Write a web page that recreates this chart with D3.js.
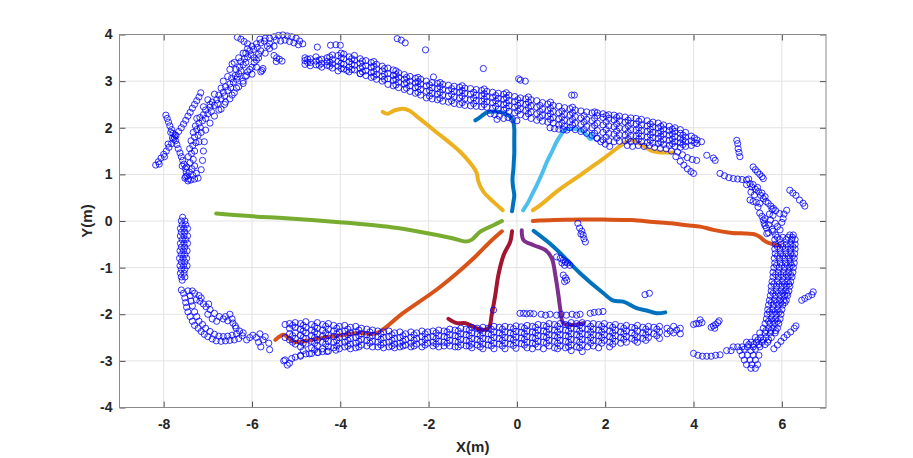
<!DOCTYPE html>
<html><head><meta charset="utf-8">
<script src="https://cdn.jsdelivr.net/npm/d3@7"></script>
<style>
body{margin:0;background:#fff}
text{font-family:"Liberation Sans",Arial,Helvetica,sans-serif;font-weight:bold;fill:#262626}
</style>
</head><body>
<svg id="chart" width="913" height="458"></svg>
<script>
// ---------- axis data ----------
const xDomain = [-9, 7];
const yDomain = [-4, 4];
const xTicks = [-8, -6, -4, -2, 0, 2, 4, 6];
const yTicks = [-4, -3, -2, -1, 0, 1, 2, 3, 4];
const xLabel = "X(m)";
const yLabel = "Y(m)";

// ---------- trajectories [x, y] ----------
const trajBlueUp = [[-0.11,0.21],[-0.08,0.4],[-0.06,0.55],[-0.09,0.75],[-0.1,0.91],[-0.08,1.1],[-0.07,1.27],[-0.06,1.45],[-0.06,1.63],[-0.06,1.8],[-0.06,1.98],[-0.08,2.12],[-0.13,2.22],[-0.26,2.3],[-0.4,2.34],[-0.53,2.35],[-0.68,2.33],[-0.83,2.23],[-0.94,2.16]];
const trajOrangeRight = [[0.36,0.0],[0.83,0.02],[1.5,0.03],[1.96,0.03],[2.6,0.02],[3.09,-0.02],[3.5,-0.05],[3.85,-0.09],[4.15,-0.12],[4.45,-0.19],[4.83,-0.25],[5.2,-0.27],[5.35,-0.28],[5.47,-0.32],[5.6,-0.42],[5.73,-0.48],[5.96,-0.53]];
const trajYellowUL = [[-0.32,0.23],[-0.53,0.41],[-0.76,0.63],[-0.87,0.84],[-0.92,1.05],[-1.08,1.27],[-1.28,1.48],[-1.46,1.63],[-1.83,1.91],[-2.21,2.2],[-2.44,2.37],[-2.59,2.41],[-2.78,2.37],[-2.93,2.3],[-3.04,2.34]];
const trajPurple = [[0.11,-0.2],[0.15,-0.41],[0.38,-0.52],[0.64,-0.62],[0.79,-0.8],[0.87,-1.16],[0.94,-1.59],[0.99,-1.94],[1.05,-2.19],[1.24,-2.23],[1.51,-2.19]];
const trajGreen = [[-0.34,0.0],[-0.53,-0.09],[-0.83,-0.23],[-1.02,-0.4],[-1.15,-0.44],[-1.46,-0.37],[-2.21,-0.23],[-2.96,-0.12],[-4.09,-0.02],[-5.23,0.06],[-5.98,0.1],[-6.81,0.16]];
const trajLightBlue = [[0.14,0.23],[0.26,0.41],[0.36,0.6],[0.45,0.77],[0.57,1.02],[0.68,1.27],[0.8,1.5],[0.9,1.7],[1.0,1.85],[1.09,1.95],[1.24,1.98],[1.43,1.95],[1.58,1.85],[1.66,1.76],[1.71,1.78],[1.7,1.86]];
const trajDarkRed = [[-0.11,-0.22],[-0.15,-0.44],[-0.3,-0.73],[-0.42,-1.16],[-0.49,-1.59],[-0.57,-2.01],[-0.64,-2.3],[-0.79,-2.34],[-0.98,-2.27],[-1.17,-2.19],[-1.36,-2.19],[-1.55,-2.1]];
const trajBlueLR = [[0.38,-0.21],[0.83,-0.55],[1.43,-1.12],[1.96,-1.55],[2.19,-1.71],[2.41,-1.73],[2.71,-1.87],[2.94,-1.92],[3.17,-1.98],[3.36,-1.96]];
const trajOrangeLL = [[-0.34,-0.22],[-0.6,-0.44],[-0.98,-0.8],[-1.36,-1.12],[-1.83,-1.48],[-2.59,-1.98],[-3.19,-2.41],[-3.57,-2.4],[-4.47,-2.52],[-5.05,-2.59],[-5.28,-2.44],[-5.47,-2.55]];
const trajYellowUR = [[0.36,0.23],[0.53,0.34],[0.9,0.63],[1.21,0.84],[1.43,0.98],[1.96,1.34],[2.49,1.7],[2.64,1.73],[2.85,1.62],[3.02,1.52],[3.17,1.48],[3.54,1.47]];
const trajColors = ["#0072BD","#D95319","#EDB120","#7E2F8E","#77AC30","#4DBEEE","#A2142F","#0072BD","#D95319","#EDB120"];

// ---------- scan points ----------
// explicit [x, y] pairs
const scanXShape = [[-8.18,1.2],[-8.12,1.27],[-8.06,1.35],[-8.0,1.43],[-7.94,1.5],[-7.88,1.58],[-7.82,1.66],[-7.77,1.75],[-7.72,1.83],[-7.66,1.92],[-7.6,2.0],[-7.55,2.08],[-7.5,2.16],[-7.45,2.25],[-7.4,2.33],[-7.35,2.42],[-7.3,2.5],[-7.25,2.58],[-7.2,2.66],[-7.16,2.75],
 [-7.95,2.27],[-7.92,2.2],[-7.89,2.12],[-7.86,2.04],[-7.82,1.96],[-7.79,1.88],[-7.76,1.8],[-7.73,1.72],[-7.7,1.64],[-7.67,1.55],[-7.63,1.46],[-7.6,1.38],[-7.57,1.3],[-7.54,1.22],[-7.51,1.13],[-7.49,1.05],[-7.47,0.97],[-7.44,0.9],[-7.84,1.9],[-7.8,1.78],[-7.74,1.85],[-7.9,1.65],[-8.1,1.22],[-7.98,1.38],[-7.52,0.92],[-7.58,1.18]];
const scanLeftArc = [[-7.45,0.86],[-7.38,0.88],[-7.3,0.9],[-7.22,0.92],[-7.5,0.95],[-7.34,0.98],[-7.26,1.02],[-7.42,1.05],[-7.36,1.12],[-7.48,1.16],[-7.3,1.18],[-7.4,1.25],[-7.33,1.32],[-7.44,1.38],[-7.37,1.45],[-7.3,1.5],[-7.41,1.55],[-7.34,1.62],[-7.27,1.68],[-7.38,1.72],[-7.3,1.8],[-7.22,1.84],[-7.33,1.9],[-7.25,1.96],[-7.17,2.0],[-7.28,2.04],
 [-7.2,2.1],[-7.12,2.15],[-7.05,2.2],[-7.18,2.22],[-7.1,2.28],[-7.0,2.3],[-6.92,2.35],[-7.05,2.38],[-6.95,2.44],[-6.85,2.48],[-6.78,2.52],[-6.9,2.55],[-6.8,2.6],[-6.7,2.62],[-6.62,2.68],[-6.75,2.7],[-6.65,2.76],[-6.55,2.8],[-6.48,2.86],[-6.6,2.88],[-6.5,2.94],[-6.42,2.98],[-6.35,3.04],[-6.46,3.06],[-6.38,3.12],[-6.3,3.16],[-6.25,3.22],[-6.36,3.25],[-6.28,3.3],[-6.2,3.35],[-6.14,3.4],[-6.25,3.42],[-6.17,3.48],[-6.1,3.52],[-6.02,3.56],[-6.14,3.6],[-6.05,3.65],[-5.96,3.68],[-5.88,3.72],[-6.0,3.75],[-5.9,3.8],[-5.8,3.82],[-5.72,3.86],[-5.82,3.9],[-5.7,3.92],[-5.6,3.92],[-5.5,3.95],[-5.4,3.98],[-5.3,3.99],[-5.2,3.97],[-5.1,3.95],[-5.0,3.92],[-4.92,3.86],[-4.85,3.8],[-5.45,3.88],[-5.35,3.86],[-5.25,3.88],[-5.15,3.85],[-5.05,3.82],[-4.95,3.78],
 [-6.33,3.94],[-6.25,3.9],[-6.18,3.85],[-6.1,3.8],[-6.45,3.37],[-6.33,3.09],[-6.0,3.3],[-5.9,3.45],[-5.77,3.23],[-6.1,3.2],[-5.85,3.58],[-5.9,3.3],[-5.8,3.2],[-5.75,3.27],[-7.1,2.45],[-7.0,2.6],[-6.85,2.72],[-6.7,2.85],[-7.25,2.2],[-7.15,1.9],[-7.2,1.7],
 [-7.15,1.1],[-7.12,1.3],[-7.1,1.5],[-7.08,1.7],[-7.05,1.95],[-6.95,2.1],[-6.85,2.25],[-6.75,2.38],[-6.62,2.5],[-6.5,2.62],[-6.4,2.75],[-6.3,2.88],[-6.2,3.0],[-6.12,3.12],[-6.05,3.25],[-5.95,3.4],[-5.85,3.5],[-5.7,3.6],[-5.6,3.7],[-5.5,3.75],[-5.6,3.8],
 [-6.95,2.5],[-6.7,2.4],[-6.6,2.55],[-6.45,2.7],[-6.35,2.85],[-6.2,2.95],[-6.15,3.1],[-6.0,3.15],[-5.95,3.5],[-5.8,3.65],[-5.65,3.75],[-6.1,3.7],[-6.2,3.6],[-6.3,3.5],[-6.4,3.4],[-6.5,3.25],[-6.55,3.1],[-6.65,3.0],
 [-5.5,3.55],[-5.44,3.5],[-5.38,3.47],[-5.32,3.43],[-5.45,3.42]];
const scanIsolated = [[-4.22,3.77],[-4.0,3.77],[-4.1,3.78],[-2.71,3.91],[-2.62,3.88],[-2.53,3.82],[-2.07,3.67],[-4.52,3.73],[-3.55,3.16],[-3.85,3.23],[-0.76,3.27],[0.04,3.05],[0.08,3.02],[0.19,3.0],[1.24,2.7],[1.3,2.7],[-1.89,3.09],
 [-0.6,2.3],[-0.5,2.28],[-0.4,2.25],[-0.3,2.2],[-0.2,2.22],[-0.1,2.18],[0.0,2.15],[-0.45,2.18],[0.75,2.0],[0.85,1.98],[0.95,1.97],[1.05,1.96],[1.13,1.95],[1.81,1.77],[1.9,1.7],[2.0,1.65],[2.1,1.6],
 [2.5,1.62],[2.62,1.6],[2.75,1.62],[2.88,1.6],[3.0,1.62],[3.12,1.58],[3.25,1.56],[3.38,1.55],[3.5,1.5],[3.64,1.48],[3.75,1.42],[3.86,1.36],[3.97,1.32],[4.07,1.3],[3.6,1.38],[3.7,1.28],[3.78,1.2],[3.86,1.12],[3.94,1.06],[4.0,1.02],
 [4.3,1.41],[4.45,1.35],[4.49,1.3],[4.98,1.73],[5.0,1.66],[5.01,1.55],[5.03,1.47],[5.05,1.38],[4.6,1.02],[4.7,0.97],[4.8,0.93],[4.9,0.91],[5.0,0.9],[5.1,0.89],[5.2,0.88],[5.28,0.8],[5.32,0.73],[5.4,0.68],[5.47,0.63],[5.52,0.55],[5.58,0.48],[5.64,0.42],[5.69,0.38],[5.75,0.32],[5.81,0.27],
 [5.25,0.9],[5.35,0.78],[5.45,0.72],[5.55,0.6],[5.62,0.52],[5.2,0.78],[5.3,0.62],[5.38,0.56],[5.28,0.45],[5.35,0.42],[5.42,0.4],[5.5,0.38],[5.46,0.3],[5.5,0.17],[5.55,0.1],[5.58,0.02],[5.62,-0.1],[5.66,-0.27],
 [5.35,1.16],[5.4,1.1],[5.45,1.05],[5.5,1.0],[5.55,0.95],[5.58,0.91],[6.18,0.66],[6.25,0.6],[6.32,0.55],[6.4,0.45],[6.48,0.38],[6.52,0.32],[6.11,0.23],[6.05,0.15],[6.03,0.05],[6.0,-0.03],[5.96,-0.19],
 [5.78,0.25],[5.86,0.22],[5.72,0.15],[5.8,0.12],[5.95,0.16],[5.62,0.05],[5.74,0.02],[5.6,-0.05],[5.7,-0.08],[5.85,-0.05],[5.65,-0.15],[5.78,-0.18],[5.9,-0.12],[5.7,-0.25],[5.8,-0.22],
 [1.38,-0.05],[1.42,-0.15],[1.47,-0.22],[1.5,-0.3],[1.52,-0.38],[1.55,-0.45],[1.45,-0.28],[0.9,-0.77],[0.98,-0.8],[1.05,-0.84],[1.1,-0.88],[1.15,-0.9],[1.2,-0.95],[1.02,-0.9],[1.08,-0.95],[1.05,-1.16],[1.1,-1.22],[1.13,-1.27],[1.08,-1.3],[2.9,-1.58],[3.0,-1.55],[-0.53,-1.91],
 [6.45,-1.7],[6.52,-1.66],[6.6,-1.62],[6.68,-1.58],[6.71,-1.52],[4.0,-2.22],[4.06,-2.2],[4.12,-2.2],[4.19,-2.18],[4.15,-2.12],[4.4,-2.28],[4.45,-2.25],[4.5,-2.22],[4.55,-2.18],[4.58,-2.14],[4.48,-2.3],
 [4.0,-2.84],[4.1,-2.88],[4.2,-2.9],[4.3,-2.9],[4.4,-2.9],[4.5,-2.88],[4.6,-2.87],[5.82,-2.74],[5.9,-2.66],[5.98,-2.58],[6.05,-2.5],[6.12,-2.44],[6.2,-2.38],[6.28,-2.3],[6.32,-2.25],
 [0.07,-1.98],[0.15,-1.98],[0.22,-1.99],[0.3,-1.98],[0.38,-1.99],[0.55,-2.0],[0.65,-2.02],[0.75,-2.0],[0.9,-2.02],[1.0,-2.0],[1.12,-2.02],[1.25,-2.0],[1.35,-2.02],[1.43,-2.0],[1.66,-1.98],[1.75,-1.96],[1.85,-1.95],[1.95,-1.94]];
const scanLeftCorner = [[-7.6,-1.48],[-7.55,-1.55],[-7.52,-1.65],[-7.5,-1.75],[-7.48,-1.85],[-7.45,-1.95],[-7.4,-2.05],[-7.35,-2.15],[-7.3,-2.24],[-7.22,-2.3],[-7.15,-2.37],[-7.08,-2.43],[-7.0,-2.48],[-6.9,-2.53],[-6.81,-2.57],[-6.7,-2.58],[-6.6,-2.57],[-6.5,-2.56],[-6.4,-2.55],[-6.3,-2.52],[-6.22,-2.46],[-6.2,-2.4],
 [-7.45,-1.5],[-7.4,-1.6],[-7.38,-1.72],[-7.35,-1.82],[-7.3,-1.95],[-7.25,-2.05],[-7.2,-2.15],[-7.12,-2.22],[-7.05,-2.3],[-6.95,-2.37],[-6.85,-2.43],[-6.75,-2.47],[-6.65,-2.48],[-6.55,-2.47],[-6.45,-2.45],[-6.35,-2.42],[-6.28,-2.36],
 [-7.26,-1.69],[-7.18,-1.72],[-7.1,-1.78],[-7.04,-1.84],[-6.95,-1.9],[-6.85,-1.98],[-6.74,-2.05],[-6.65,-2.1],[-6.55,-2.14],[-6.43,-2.19],[-6.38,-2.25],[-6.36,-2.3],[-6.6,-2.05],[-6.5,-2.0],[-6.45,-2.1],[-6.9,-2.1],[-6.8,-2.15],[-7.0,-2.0],[-7.3,-1.55],[-7.35,-1.5],[-7.2,-1.6],[-7.15,-1.65],[-6.98,-1.78],
 [-5.98,-2.45],[-5.9,-2.5],[-5.82,-2.42],[-5.75,-2.55],[-5.85,-2.6],[-5.7,-2.48],[-5.62,-2.62],[-5.8,-2.7],[-5.6,-2.76],[-6.05,-2.5],[-6.12,-2.55],
 [-5.28,-3.0],[-5.2,-3.09],[-5.1,-2.95],[-4.9,-2.9],[-4.7,-2.85],[-4.5,-2.82],[-4.3,-2.8],[-4.1,-2.77]];

// columns: [x, y1, y2, ...]
const scanTopBand = [
 [-4.8,3.36,3.44,3.5],[-4.68,3.33,3.4,3.48],[-4.55,3.35,3.43,3.52],[-4.42,3.3,3.38,3.47],[-4.3,3.34,3.42,3.5],[-4.18,3.28,3.37,3.46,3.56],[-4.05,3.22,3.32,3.42,3.55],[-3.92,3.26,3.36,3.48,3.58],[-3.8,3.2,3.3,3.42,3.52],[-3.68,3.24,3.34,3.45,3.55],[-3.55,3.16,3.28,3.38,3.48],[-3.42,3.12,3.22,3.33,3.44],[-3.3,3.08,3.18,3.3,3.4],[-3.18,3.04,3.14,3.26,3.36],[-3.05,3.0,3.1,3.22,3.32],[-2.92,2.93,3.05,3.16,3.28],[-2.8,2.9,3.02,3.12,3.24],[-2.68,2.86,2.98,3.08,3.18],[-2.55,2.82,2.94,3.04,3.14],[-2.42,2.78,2.9,3.0,3.1],[-2.3,2.74,2.86,2.96,3.06],[-2.18,2.7,2.82,2.94,3.04],[-2.05,2.64,2.78,2.9,3.0],[-1.92,2.62,2.74,2.86,2.97],[-1.8,2.6,2.72,2.84,2.95],[-1.68,2.57,2.7,2.82,2.93],[-1.55,2.55,2.68,2.8,2.91],[-1.42,2.52,2.66,2.78,2.89],[-1.3,2.5,2.64,2.76,2.87],[-1.18,2.48,2.62,2.74,2.85],[-1.05,2.47,2.6,2.72,2.84],[-0.92,2.46,2.58,2.7,2.82],[-0.8,2.45,2.57,2.69,2.8],[-0.68,2.44,2.56,2.67,2.78],[-0.55,2.42,2.54,2.65,2.76],[-0.42,2.4,2.52,2.63,2.74],[-0.3,2.38,2.5,2.61,2.72],[-0.18,2.35,2.47,2.58,2.7],[-0.05,2.32,2.44,2.56,2.67],[0.08,2.28,2.41,2.53,2.64],[0.2,2.24,2.37,2.5,2.62],[0.32,2.2,2.34,2.47,2.6],[0.45,2.16,2.3,2.44,2.58],[0.58,2.14,2.27,2.4,2.54],[0.7,2.12,2.25,2.37,2.51],[0.82,2.1,2.22,2.35,2.48],[0.95,2.06,2.19,2.32,2.46],[1.08,2.03,2.16,2.29,2.43],[1.2,2.0,2.13,2.27,2.41],[1.32,1.96,2.1,2.24,2.38],[1.45,1.92,2.07,2.21,2.36],[1.58,1.88,2.03,2.18,2.34],[1.7,1.84,2.0,2.15,2.32],[1.82,1.78,1.94,2.1,2.26,2.32],[1.95,1.74,1.9,2.06,2.22,2.3],[2.08,1.72,1.88,2.04,2.2,2.28],[2.2,1.7,1.86,2.02,2.17,2.27],[2.32,1.71,1.85,2.0,2.15,2.25],[2.45,1.72,1.84,1.98,2.12,2.23],[2.58,1.7,1.83,1.96,2.1,2.21],[2.7,1.71,1.82,1.95,2.08,2.2],[2.82,1.7,1.82,1.94,2.06,2.18],[2.95,1.68,1.8,1.92,2.04,2.15],[3.08,1.67,1.79,1.9,2.02,2.12],[3.2,1.66,1.77,1.88,2.0,2.1],[3.32,1.64,1.75,1.86,1.97,2.06],[3.45,1.62,1.73,1.84,1.94,2.03],[3.58,1.6,1.7,1.81,1.92,2.0],[3.7,1.58,1.68,1.78,1.88,1.96],[3.82,1.6,1.7,1.8,1.9],[3.95,1.62,1.72,1.82],[4.08,1.66,1.74],[4.18,1.7],
 [-4.74,3.4,3.47],[-4.48,3.34,3.45],[-4.24,3.32,3.41,3.52],[-3.98,3.27,3.38,3.5,3.6],[-3.74,3.25,3.37,3.48],[-3.5,3.2,3.31,3.43],[-3.24,3.1,3.2,3.32,3.42],[-3.0,3.04,3.15,3.27],[-2.74,2.92,3.04,3.14,3.22],[-2.5,2.85,2.97,3.08],[-2.24,2.76,2.88,2.99,3.08],[-1.98,2.68,2.8,2.92],[-1.74,2.63,2.76,2.88,2.97],[-1.48,2.58,2.72,2.84],[-1.24,2.54,2.68,2.8,2.9],[-0.98,2.52,2.64,2.76],[-0.74,2.5,2.62,2.73,2.83],[-0.48,2.46,2.58,2.69],[-0.24,2.42,2.53,2.65,2.75],[0.02,2.36,2.48,2.6],[0.26,2.3,2.43,2.55,2.66],[0.52,2.22,2.35,2.48],[0.76,2.18,2.3,2.42,2.55],[1.02,2.1,2.23,2.36],[1.26,2.06,2.18,2.32,2.44],[1.52,1.96,2.12,2.26],[1.76,1.88,2.05,2.2,2.34],[2.02,1.8,1.96,2.12,2.26],[2.26,1.78,1.93,2.08,2.22],[2.52,1.76,1.9,2.04,2.16],[2.76,1.76,1.88,2.0,2.14],[3.02,1.73,1.85,1.97,2.08],[3.26,1.7,1.82,1.92,2.03],[3.52,1.66,1.76,1.87,1.97],[3.76,1.64,1.74,1.84],[4.02,1.68,1.78]];
const scanBottomBand = [
 [-5.25,-2.22,-2.5,-2.98],[-5.15,-2.2,-2.3,-2.42,-2.55,-3.05],[-5.02,-2.18,-2.28,-2.4,-2.52,-2.64,-2.92],[-4.9,-2.2,-2.32,-2.45,-2.58,-2.7,-2.88],[-4.78,-2.16,-2.28,-2.4,-2.52,-2.64,-2.85],[-4.65,-2.22,-2.34,-2.46,-2.58,-2.72,-2.84],[-4.52,-2.18,-2.3,-2.42,-2.55,-2.68,-2.82],[-4.4,-2.22,-2.34,-2.47,-2.6,-2.74,-2.8],[-4.27,-2.2,-2.32,-2.45,-2.58,-2.7,-2.79],[-4.15,-2.24,-2.36,-2.48,-2.6,-2.72],[-4.02,-2.26,-2.38,-2.5,-2.62,-2.74],[-3.9,-2.24,-2.36,-2.48,-2.6,-2.7],[-3.77,-2.28,-2.4,-2.52,-2.64,-2.74],[-3.65,-2.26,-2.38,-2.5,-2.62,-2.72],[-3.52,-2.3,-2.42,-2.54,-2.66],[-3.4,-2.32,-2.44,-2.56,-2.68],[-3.27,-2.34,-2.46,-2.58,-2.7],[-3.15,-2.36,-2.48,-2.6,-2.7],[-3.02,-2.38,-2.5,-2.62,-2.72],[-2.9,-2.36,-2.48,-2.6,-2.7],[-2.77,-2.4,-2.52,-2.64,-2.72],[-2.65,-2.38,-2.5,-2.62,-2.7],[-2.52,-2.42,-2.54,-2.66],[-2.4,-2.38,-2.5,-2.62,-2.7],[-2.27,-2.4,-2.52,-2.64],[-2.15,-2.36,-2.48,-2.6,-2.7],[-2.02,-2.38,-2.5,-2.62],[-1.9,-2.36,-2.48,-2.6,-2.68],[-1.77,-2.34,-2.46,-2.58,-2.7],[-1.65,-2.36,-2.48,-2.6,-2.68],[-1.52,-2.32,-2.44,-2.56,-2.68],[-1.4,-2.34,-2.46,-2.58,-2.7],[-1.27,-2.3,-2.42,-2.54,-2.66],[-1.15,-2.32,-2.44,-2.56,-2.68],[-1.02,-2.28,-2.4,-2.52,-2.64,-2.72],[-0.9,-2.3,-2.42,-2.54,-2.66],[-0.77,-2.28,-2.4,-2.52,-2.64,-2.74],[-0.65,-2.3,-2.42,-2.54,-2.66],[-0.52,-2.26,-2.38,-2.5,-2.62,-2.74],[-0.4,-2.28,-2.4,-2.52,-2.64],[-0.27,-2.26,-2.38,-2.5,-2.62,-2.74],[-0.15,-2.28,-2.4,-2.52,-2.64],[-0.02,-2.25,-2.37,-2.49,-2.61,-2.73],[0.1,-2.27,-2.39,-2.51,-2.63],[0.23,-2.24,-2.36,-2.48,-2.6,-2.72],[0.35,-2.26,-2.38,-2.5,-2.62,-2.74],[0.48,-2.22,-2.34,-2.46,-2.58,-2.7],[0.6,-2.24,-2.36,-2.48,-2.6,-2.74],[0.73,-2.2,-2.32,-2.44,-2.56,-2.68],[0.85,-2.22,-2.34,-2.46,-2.58,-2.72],[0.98,-2.2,-2.32,-2.44,-2.56,-2.68],[1.1,-2.22,-2.34,-2.46,-2.58,-2.72],[1.23,-2.18,-2.3,-2.42,-2.54,-2.66,-2.78],[1.35,-2.2,-2.32,-2.44,-2.56,-2.7],[1.48,-2.18,-2.3,-2.42,-2.54,-2.66,-2.8],[1.6,-2.2,-2.32,-2.44,-2.56,-2.7],[1.73,-2.2,-2.32,-2.44,-2.56,-2.68],[1.85,-2.22,-2.34,-2.46,-2.58,-2.72],[1.98,-2.2,-2.32,-2.44,-2.56],[2.1,-2.24,-2.36,-2.48,-2.6,-2.7],[2.23,-2.22,-2.34,-2.46,-2.58],[2.35,-2.26,-2.38,-2.5,-2.62],[2.48,-2.24,-2.36,-2.48,-2.6],[2.6,-2.28,-2.4,-2.52],[2.73,-2.24,-2.36,-2.5,-2.6],[2.85,-2.28,-2.4,-2.52],[2.98,-2.26,-2.38,-2.5],[3.1,-2.28,-2.42],[3.23,-2.26,-2.38,-2.52],[3.4,-2.3,-2.42],[3.55,-2.26,-2.4],[3.7,-2.3,-2.42],
 [-5.08,-2.24,-2.46,-2.6],[-4.84,-2.24,-2.36,-2.5,-2.62,-2.78],[-4.58,-2.26,-2.38,-2.5,-2.62,-2.76],[-4.33,-2.26,-2.4,-2.52,-2.64],[-4.08,-2.3,-2.42,-2.56,-2.68],[-3.83,-2.32,-2.44,-2.56,-2.68],[-3.58,-2.34,-2.46,-2.58,-2.7],[-3.33,-2.38,-2.5,-2.62],[-3.08,-2.42,-2.54,-2.66],[-2.83,-2.44,-2.56,-2.68],[-2.58,-2.46,-2.58,-2.68],[-2.33,-2.44,-2.56,-2.68],[-2.08,-2.42,-2.54,-2.66],[-1.83,-2.4,-2.52,-2.64],[-1.58,-2.38,-2.5,-2.62],[-1.33,-2.36,-2.48,-2.6,-2.7],[-1.08,-2.34,-2.46,-2.58,-2.68],[-0.83,-2.34,-2.46,-2.58,-2.7],[-0.58,-2.32,-2.44,-2.56,-2.68],[-0.33,-2.32,-2.44,-2.56,-2.68],[-0.08,-2.31,-2.43,-2.55,-2.67],[0.17,-2.3,-2.42,-2.54,-2.66],[0.42,-2.28,-2.4,-2.52,-2.64],[0.67,-2.26,-2.38,-2.5,-2.62],[0.92,-2.26,-2.38,-2.5,-2.62,-2.74],[1.17,-2.24,-2.36,-2.48,-2.6,-2.7],[1.42,-2.24,-2.36,-2.48,-2.6,-2.72],[1.67,-2.26,-2.38,-2.5,-2.62],[1.92,-2.26,-2.38,-2.5,-2.62],[2.17,-2.28,-2.4,-2.52,-2.64],[2.42,-2.3,-2.42,-2.54],[2.67,-2.3,-2.44,-2.56],[2.92,-2.32,-2.44,-2.56],[3.17,-2.32,-2.46],[3.47,-2.36],[3.62,-2.34]];
// rows: [y, x1, x2, ...]
const scanLeftWall = [
 [0.08,-7.57],[0.0,-7.6,-7.52],[-0.08,-7.58,-7.5],[-0.16,-7.62,-7.54,-7.46],[-0.24,-7.6,-7.52],[-0.32,-7.62,-7.54,-7.46],[-0.4,-7.58,-7.5],[-0.48,-7.62,-7.54,-7.46],[-0.56,-7.6,-7.52],[-0.64,-7.63,-7.55,-7.47],[-0.72,-7.6,-7.52],[-0.8,-7.64,-7.56,-7.48],[-0.88,-7.6,-7.52],[-0.96,-7.63,-7.55,-7.47],[-1.04,-7.6,-7.52],[-1.12,-7.62,-7.54],[-1.2,-7.6,-7.52],[-1.27,-7.58]];
const scanRightWall = [
 [-0.3,5.86,6.18,6.26],[-0.4,5.84,5.95,6.1,6.22,6.3],[-0.5,5.86,5.98,6.1,6.2,6.3],[-0.6,5.84,5.96,6.08,6.2,6.3],[-0.7,5.85,5.97,6.09,6.2,6.29],[-0.8,5.83,5.95,6.07,6.18,6.28],[-0.9,5.84,5.96,6.08,6.19,6.28],[-1.0,5.82,5.94,6.06,6.17,6.26],[-1.1,5.8,5.92,6.04,6.15,6.25],[-1.2,5.8,5.92,6.03,6.14,6.23],[-1.3,5.78,5.9,6.01,6.12,6.2],[-1.4,5.76,5.88,6.0,6.1,6.18],[-1.5,5.76,5.87,5.98,6.08,6.16],[-1.6,5.74,5.85,5.96,6.06,6.13],[-1.7,5.72,5.83,5.94,6.04,6.1],[-1.8,5.7,5.81,5.92,6.02],[-1.9,5.68,5.79,5.9,6.0],[-2.0,5.67,5.78,5.88,5.98],[-2.1,5.65,5.76,5.86,5.96],[-2.2,5.62,5.73,5.84,5.93],[-2.3,5.58,5.7,5.8,5.9],[-2.4,5.5,5.62,5.74,5.85],[-2.5,5.4,5.52,5.64,5.76],[-2.6,5.2,5.3,5.42,5.55,5.68],[-2.7,4.9,5.0,5.1,5.22,5.35,5.5],[-2.78,4.75,4.85,5.05,5.3],[-2.88,5.1,5.22,5.35,5.48],[-2.98,5.15,5.28,5.4],[-3.08,5.2,5.32,5.45],[-3.16,5.3,5.4],
 [-0.35,5.9,6.02,6.14,6.24],[-0.55,5.9,6.02,6.14,6.25],[-0.75,5.9,6.02,6.14,6.24],[-0.95,5.88,6.0,6.12,6.22],[-1.15,5.86,5.98,6.1,6.2],[-1.35,5.82,5.94,6.06,6.16],[-1.55,5.8,5.92,6.02,6.12],[-1.75,5.76,5.88,5.98,6.07],[-1.95,5.72,5.84,5.94],[-2.15,5.7,5.8,5.9],[-2.35,5.64,5.75,5.86],[-2.55,5.46,5.58,5.7],[-2.65,5.25,5.36,5.48,5.62],[-2.75,5.15,5.4]];

// ---------- assemble ----------
const fromCols = cols => cols.flatMap(c => c.slice(1).map(v => [c[0], v]));
const fromRows = rows => rows.flatMap(r => r.slice(1).map(v => [v, r[0]]));
const scanPoints = [].concat(scanXShape, scanLeftArc, scanIsolated, scanLeftCorner,
  fromCols(scanTopBand), fromCols(scanBottomBand), fromRows(scanLeftWall), fromRows(scanRightWall));
const trajectories = [trajBlueUp, trajOrangeRight, trajYellowUL, trajPurple, trajGreen, trajLightBlue, trajDarkRed, trajBlueLR, trajOrangeLL, trajYellowUR];

// ---------- layout ----------
const box = {left: 119.5, right: 826, top: 34.5, bottom: 407.5};
const svg = d3.select("#chart");
svg.append("rect").attr("width", 913).attr("height", 458).attr("fill", "#fff");
const x = d3.scaleLinear().domain(xDomain).range([box.left, box.right]);
const y = d3.scaleLinear().domain(yDomain).range([box.bottom, box.top]);

// grid
const grid = svg.append("g");
grid.selectAll(".gx").data(xTicks).join("line")
  .attr("x1", d => x(d)).attr("x2", d => x(d)).attr("y1", box.top).attr("y2", box.bottom)
  .attr("stroke", "#e3e3e3").attr("stroke-width", 1);
grid.selectAll(".gy").data(yTicks).join("line")
  .attr("y1", d => y(d)).attr("y2", d => y(d)).attr("x1", box.left).attr("x2", box.right)
  .attr("stroke", "#e3e3e3").attr("stroke-width", 1);

// trajectories
const line = d3.line().x(d => x(d[0])).y(d => y(d[1])).curve(d3.curveCatmullRom.alpha(0.5));
svg.append("g").selectAll("path").data(trajectories).join("path")
  .attr("d", line).attr("fill", "none")
  .attr("stroke", (d, i) => trajColors[i])
  .attr("stroke-width", 4).attr("stroke-linecap", "round").attr("stroke-linejoin", "round");

// scan points
svg.append("g").selectAll("circle").data(scanPoints).join("circle")
  .attr("cx", d => x(d[0])).attr("cy", d => y(d[1])).attr("r", 3.1)
  .attr("fill", "none").attr("stroke", "#0000ff").attr("stroke-width", 0.8);

// axes
const axisColor = "#262626";
const fmt = d => String(d);
function styleAxis(g, labels) {
  g.select(".domain").remove();
  g.selectAll(".tick line").attr("stroke", axisColor).attr("stroke-width", 0.8);
  if (!labels) g.selectAll(".tick text").remove();
  else g.selectAll(".tick text").attr("fill", axisColor)
    .style("font-size", "14px").style("font-weight", "bold")
    .style("font-family", '"Liberation Sans", Arial, sans-serif');
}
svg.append("g").attr("transform", `translate(0,${box.bottom})`)
  .call(d3.axisBottom(x).tickValues(xTicks).tickSize(-6).tickPadding(12).tickFormat(fmt))
  .call(g => styleAxis(g, true));
svg.append("g").attr("transform", `translate(0,${box.top})`)
  .call(d3.axisTop(x).tickValues(xTicks).tickSize(-6))
  .call(g => styleAxis(g, false));
svg.append("g").attr("transform", `translate(${box.left},0)`)
  .call(d3.axisLeft(y).tickValues(yTicks).tickSize(-6).tickPadding(7).tickFormat(fmt))
  .call(g => styleAxis(g, true));
svg.append("g").attr("transform", `translate(${box.right},0)`)
  .call(d3.axisRight(y).tickValues(yTicks).tickSize(-6))
  .call(g => styleAxis(g, false));

svg.append("rect").attr("x", box.left).attr("y", box.top)
  .attr("width", box.right - box.left).attr("height", box.bottom - box.top)
  .attr("fill", "none").attr("stroke", "#8a8a8a").attr("stroke-width", 1);

// labels
svg.append("text").attr("x", (box.left + box.right) / 2).attr("y", 452)
  .attr("text-anchor", "middle").style("font-size", "15px").text(xLabel);
svg.append("text").attr("transform", `translate(92,${(box.top + box.bottom) / 2}) rotate(-90)`)
  .attr("text-anchor", "middle").style("font-size", "15px").text(yLabel);
</script>
</body></html>
